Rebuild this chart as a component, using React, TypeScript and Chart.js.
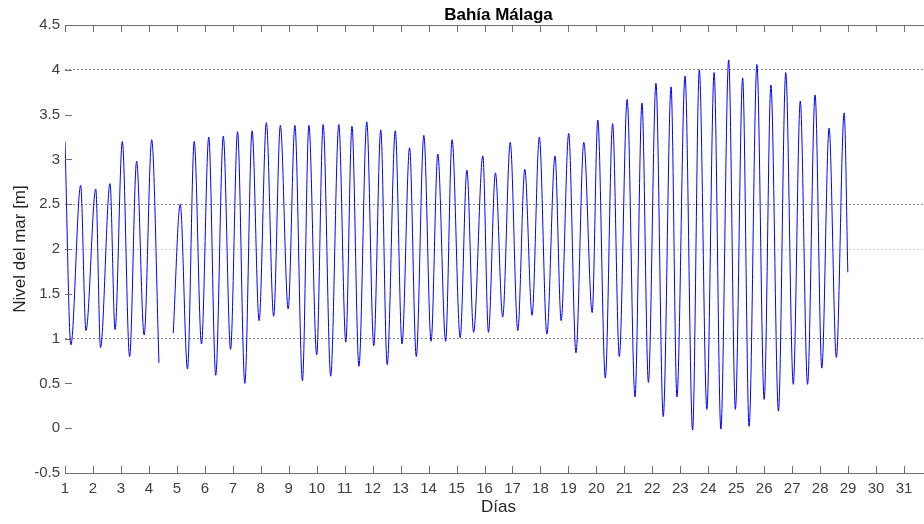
import React, { useEffect, useRef } from "react";
import Chart from "chart.js/auto";

// tide extremes (day of month, sea level in m); null = gap in the record
const tideDays = [
  1.0, 1.21, 1.56, 1.75, 2.1, 2.27, 2.61, 2.79, 3.05, 3.31, 3.56, 3.83, 4.1, 4.36, 4.6,
  4.87, 5.12, 5.38, 5.62, 5.88, 6.14, 6.39, 6.66, 6.92, 7.17, 7.43, 7.69, 7.94, 8.2,
  8.46, 8.7, 8.98, 9.22, 9.49, 9.72, 10.0, 10.23, 10.5, 10.79, 11.04, 11.26, 11.51,
  11.79, 12.04, 12.29, 12.52, 12.81, 13.05, 13.32, 13.56, 13.83, 14.09, 14.33, 14.61,
  14.84, 15.13, 15.37, 15.61, 15.94, 16.14, 16.39, 16.65, 16.92, 17.19, 17.44, 17.7,
  17.96, 18.23, 18.52, 18.74, 19.01, 19.27, 19.55, 19.85, 20.05, 20.32, 20.58, 20.82,
  21.1, 21.38, 21.63, 21.86, 22.13, 22.39, 22.67, 22.88, 23.17, 23.44, 23.68, 23.95,
  24.21, 24.45, 24.73, 24.97, 25.23, 25.46, 25.74, 26.0, 26.24, 26.51, 26.77, 27.04,
  27.29, 27.55, 27.82, 28.06, 28.32, 28.58, 28.86, 28.99,
];
const tideLevels = [
  3.2, 0.93, 2.71, 1.09, 2.67, 0.9, 2.73, 1.1, 3.2, 0.8, 2.98, 1.04, 3.22, 0.73, null,
  1.06, 2.5, 0.66, 3.2, 0.94, 3.25, 0.59, 3.26, 0.88, 3.31, 0.5, 3.32, 1.2, 3.41,
  1.25, 3.38, 1.33, 3.38, 0.53, 3.38, 0.82, 3.39, 0.58, 3.39, 0.96, 3.37, 0.69,
  3.42, 0.92, 3.33, 0.71, 3.32, 0.94, 3.13, 0.8, 3.27, 0.97, 3.06, 0.97,
  3.22, 1.01, 2.88, 1.07, 3.04, 1.07, 2.85, 1.24, 3.19, 1.09, 2.89, 1.26,
  3.25, 1.05, 3.04, 1.2, 3.29, 0.84, 3.19, 1.29, 3.44, 0.56, 3.4, 0.8,
  3.67, 0.35, 3.63, 0.51, 3.85, 0.13, 3.81, 0.35, 3.93, -0.02, 4.0, 0.21,
  3.97, -0.01, 4.11, 0.21, 3.91, 0.02, 4.06, 0.32, 3.83, 0.19, 3.97, 0.49,
  3.65, 0.49, 3.72, 0.67, 3.35, 0.79, 3.52, 1.74,
];

// dotted reference lines (m)
const strongLevels = [1, 2.5, 4];
const faintLevels = [2];

const FONT = "'Liberation Sans', Arial, Helvetica, sans-serif";

// MATLAB-like frame: top border line and inward tick marks
const framePlugin = {
  id: "frame",
  afterDraw(chart: any) {
    const { ctx, chartArea: a, scales } = chart;
    const xs = scales.x;
    const ys = scales.y;
    ctx.save();
    ctx.strokeStyle = "#6e6e6e";
    ctx.lineWidth = 1;
    ctx.beginPath();
    ctx.moveTo(a.left, a.top + 0.5);
    ctx.lineTo(a.right, a.top + 0.5);
    xs.ticks.forEach((t: any) => {
      const px = Math.round(xs.getPixelForValue(t.value)) + 0.5;
      ctx.moveTo(px, a.bottom);
      ctx.lineTo(px, a.bottom - 7);
      ctx.moveTo(px, a.top);
      ctx.lineTo(px, a.top + 7);
    });
    ys.ticks.forEach((t: any) => {
      const py = Math.round(ys.getPixelForValue(t.value)) + 0.5;
      ctx.moveTo(a.left, py);
      ctx.lineTo(a.left + 7, py);
    });
    ctx.stroke();
    ctx.restore();
  },
};

const TideChart = () => {
  const chartRef = useRef<HTMLCanvasElement>(null);
  const chartInstance = useRef<any>(null);

  useEffect(() => {
    if (!chartRef.current) return;
    const ctx: any = chartRef.current.getContext("2d");
    if (chartInstance.current) chartInstance.current.destroy();

    const points = tideDays.map((d, i) => ({ x: d, y: tideLevels[i] }));

    chartInstance.current = new Chart(ctx, {
      type: "line",
      data: {
        datasets: [
          {
            label: "Nivel del mar",
            data: points as any,
            borderColor: "#0000ff",
            borderWidth: 1,
            pointRadius: 0,
            cubicInterpolationMode: "monotone",
            spanGaps: false,
          },
        ],
      },
      options: {
        responsive: false,
        animation: false,
        layout: { padding: 0 },
        plugins: {
          legend: { display: false },
          tooltip: { enabled: false },
          title: {
            display: true,
            text: "Bahía Málaga",
            fullSize: false,
            color: "#000",
            font: { family: FONT, size: 17, weight: "bold", lineHeight: 1.12 },
            padding: { top: 6, bottom: 0 },
          },
        },
        scales: {
          x: {
            type: "linear",
            min: 1,
            max: 32,
            afterBuildTicks: (s: any) => {
              s.ticks = s.ticks.filter((t: any) => t.value <= 31);
            },
            afterFit: (s: any) => {
              s.height = 51;
            },
            ticks: {
              stepSize: 1,
              autoSkip: false,
              maxRotation: 0,
              padding: 7,
              color: "#404040",
              font: { family: FONT, size: 15 },
              callback: (v: any) => String(v),
            },
            grid: { display: false, drawTicks: false },
            border: { display: true, color: "#6e6e6e", width: 1 },
            title: {
              display: true,
              text: "Días",
              color: "#262626",
              font: { family: FONT, size: 17 },
              padding: { top: 0, bottom: 6 },
            },
          },
          y: {
            min: -0.5,
            max: 4.5,
            afterFit: (s: any) => {
              s.width = 65;
            },
            ticks: {
              stepSize: 0.5,
              padding: 5,
              color: "#404040",
              font: { family: FONT, size: 15 },
              callback: (v: any) => String(v),
            },
            grid: {
              drawTicks: false,
              lineWidth: 1,
              color: (c: any) => {
                const v = c.tick ? c.tick.value : NaN;
                if (strongLevels.includes(v)) return "#8c8c8c";
                if (faintLevels.includes(v)) return "#cfcfcf";
                return "rgba(0,0,0,0)";
              },
            },
            border: { display: false, dash: [2, 2] },
            title: {
              display: true,
              text: "Nivel del mar [m]",
              color: "#262626",
              font: { family: FONT, size: 17 },
              padding: { top: 10, bottom: 0 },
            },
          },
        },
      },
      plugins: [framePlugin],
    });

    return () => {
      if (chartInstance.current) {
        chartInstance.current.destroy();
        chartInstance.current = null;
      }
    };
  }, []);

  return (
    <div
      style={{
        position: "fixed",
        left: 0,
        top: 0,
        width: 924,
        height: 524,
        overflow: "hidden",
        background: "#fff",
      }}
    >
      <canvas ref={chartRef} width={932} height={524} style={{ display: "block" }} />
    </div>
  );
};

export default function App() {
  return <TideChart />;
}
